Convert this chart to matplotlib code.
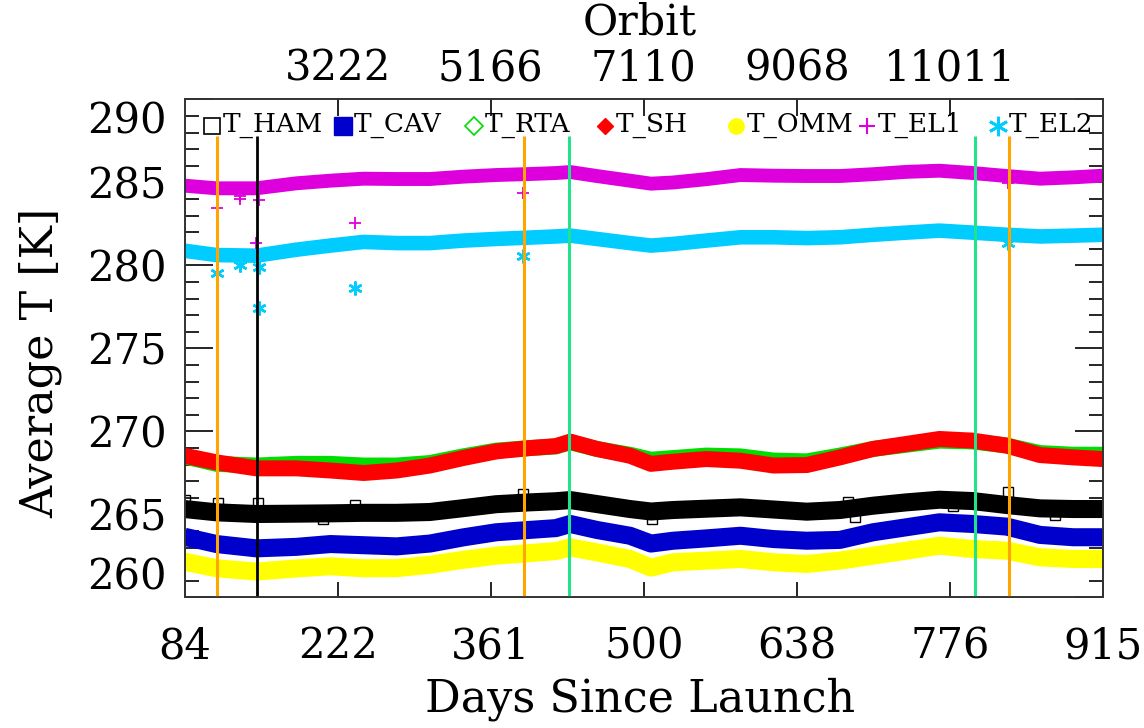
import matplotlib
matplotlib.use("Agg")
import numpy as np
import matplotlib.pyplot as plt
import matplotlib.transforms as mtransforms
from matplotlib.ticker import MultipleLocator

plt.rcParams["font.family"] = ["DejaVu Serif"]

# ---------------------------------------------------------------------------
# Data: average temperatures [K] versus days since launch
# ---------------------------------------------------------------------------
days = [84, 113, 149, 185, 216, 246, 276, 306, 336, 366, 396, 420, 433, 457,
        487, 506, 526, 556, 587, 617, 647, 677, 707, 737, 767, 797, 828, 858,
        888, 915]

t_ham = [265.33, 265.13, 265.03, 265.05, 265.07, 265.10, 265.10, 265.15, 265.38,
         265.62, 265.73, 265.80, 265.87, 265.63, 265.33, 265.18, 265.27, 265.35,
         265.43, 265.30, 265.17, 265.27, 265.53, 265.73, 265.89, 265.81, 265.57,
         265.37, 265.33, 265.33]

t_cav = [263.66, 263.22, 262.96, 263.05, 263.22, 263.15, 263.08, 263.25, 263.62,
         263.93, 264.07, 264.18, 264.43, 264.07, 263.72, 263.25, 263.42, 263.56,
         263.72, 263.52, 263.42, 263.47, 263.93, 264.23, 264.53, 264.43, 264.27,
         263.77, 263.63, 263.63]

t_rta = [268.50, 268.05, 267.95, 268.05, 268.05, 267.95, 267.95, 268.10, 268.50,
         268.85, 269.00, 269.10, 269.35, 268.95, 268.60, 268.30, 268.40, 268.55,
         268.50, 268.25, 268.20, 268.55, 268.95, 269.20, 269.45, 269.40, 269.15,
         268.70, 268.60, 268.60]

t_sh = [268.54, 268.14, 267.78, 267.78, 267.65, 267.50, 267.65, 267.95, 268.40,
        268.80, 269.00, 269.12, 269.39, 268.95, 268.54, 268.05, 268.18, 268.34,
        268.24, 267.95, 267.98, 268.44, 268.95, 269.25, 269.55, 269.45, 269.15,
        268.58, 268.44, 268.34]

t_omm = [262.16, 261.76, 261.56, 261.75, 261.88, 261.76, 261.77, 261.97, 262.27,
         262.52, 262.67, 262.80, 263.02, 262.72, 262.32, 261.80, 262.12, 262.22,
         262.32, 262.12, 262.02, 262.22, 262.52, 262.82, 263.12, 262.92, 262.82,
         262.42, 262.32, 262.32]

t_el1 = [284.81, 284.65, 284.65, 284.95, 285.11, 285.23, 285.21, 285.21, 285.35,
         285.45, 285.51, 285.57, 285.63, 285.39, 285.11, 284.93, 285.00, 285.20,
         285.45, 285.41, 285.39, 285.39, 285.50, 285.64, 285.71, 285.57, 285.39,
         285.23, 285.31, 285.41]

t_el2 = [280.89, 280.63, 280.59, 280.95, 281.20, 281.42, 281.35, 281.35, 281.50,
         281.60, 281.68, 281.75, 281.80, 281.60, 281.35, 281.20, 281.30, 281.50,
         281.70, 281.70, 281.65, 281.70, 281.85, 281.98, 282.10, 281.98, 281.85,
         281.75, 281.80, 281.85]

# isolated readings away from the main bands
ham_extra_days = [84, 114, 150.5, 209, 238, 390.5, 507, 684.5, 690.8, 779.5, 829.3, 871.6]
ham_extra_vals = [265.87, 265.69, 265.69, 264.71, 265.57, 266.23, 264.71, 265.77,
                  264.87, 265.51, 266.37, 264.97]

el1_extra_days = [113, 134, 134, 151, 149, 238, 390.5, 829]
el1_extra_vals = [283.45, 284.20, 284.00, 283.95, 281.34, 282.54, 284.35, 284.95]

el2_extra_days = [113, 134, 151, 151, 238, 390.5, 829]
el2_extra_vals = [279.53, 280.03, 279.93, 277.42, 278.63, 280.57, 281.36]

# event markers (days since launch)
orange_event_days = [113.4, 390.7, 829.5]
green_event_days = [432.3, 799.2]
black_event_days = [149.6]
event_top = 287.8

series_names = ["T_HAM", "T_CAV", "T_RTA", "T_SH", "T_OMM", "T_EL1", "T_EL2"]
day_tick_labels = ["84", "222", "361", "500", "638", "776", "915"]
orbit_tick_labels = ["3222", "5166", "7110", "9068", "11011"]
temp_tick_labels = ["260", "265", "270", "275", "280", "285", "290"]

# ---------------------------------------------------------------------------
# Styles
# ---------------------------------------------------------------------------
colors = {
    "T_HAM": "#000000",
    "T_CAV": "#0000CC",
    "T_RTA": "#00DD00",
    "T_SH": "#FF0000",
    "T_OMM": "#FFFF00",
    "T_EL1": "#DD00DD",
    "T_EL2": "#00CCFF",
}
band_width = {
    "T_HAM": 13, "T_CAV": 13, "T_RTA": 11.5, "T_SH": 11.5,
    "T_OMM": 13, "T_EL1": 10, "T_EL2": 10.5,
}
asterisk = (6, 2, 0)
legend_markers = {
    "T_HAM": dict(marker="s", ms=12, mfc="none", mec="#000000", mew=1.2),
    "T_CAV": dict(marker="s", ms=12.5, mfc="#0000CC", mec="#0000CC"),
    "T_RTA": dict(marker="D", ms=9, mfc="none", mec="#00DD00", mew=1.2),
    "T_SH": dict(marker="D", ms=8.5, mfc="#FF0000", mec="#FF0000"),
    "T_OMM": dict(marker="o", ms=11, mfc="#FFFF00", mec="#FFFF00"),
    "T_EL1": dict(marker="+", ms=12, mec="#DD00DD", mew=1.5),
    "T_EL2": dict(marker=asterisk, ms=14, mec="#00CCFF", mew=2),
}
values = {
    "T_HAM": t_ham, "T_CAV": t_cav, "T_RTA": t_rta, "T_SH": t_sh,
    "T_OMM": t_omm, "T_EL1": t_el1, "T_EL2": t_el2,
}

# ---------------------------------------------------------------------------
# Figure
# ---------------------------------------------------------------------------
fig = plt.figure(figsize=(11.44, 7.28), dpi=100)
ax = fig.add_axes([0.16128, 0.17926, 0.80289, 0.68407])
ax2 = ax.twiny()

for i, name in enumerate(series_names):
    ax.plot(days, values[name], color=colors[name], lw=band_width[name],
            solid_capstyle="butt", solid_joinstyle="round", zorder=2 + i * 0.1)

ax.plot(ham_extra_days, ham_extra_vals, ls="none", marker="s", ms=7,
        mfc="none", mec="#000000", mew=1.0, zorder=2.05)
ax.plot(el1_extra_days, el1_extra_vals, ls="none", marker="+", ms=9,
        mec="#DD00DD", mew=1.3, zorder=2.6)
ax.plot(el2_extra_days, el2_extra_vals, ls="none", marker=asterisk, ms=10,
        mec="#00CCFF", mew=1.8, zorder=2.7)

ax.vlines(orange_event_days, 260, event_top, colors="#FFA500", lw=2.2, zorder=4)
ax.vlines(green_event_days, 260, event_top, colors="#22E38A", lw=2.2, zorder=4)
ax.vlines(black_event_days, 260, event_top, colors="#000000", lw=2.0, zorder=4)

# axis limits and ticks
day_ticks = np.linspace(float(day_tick_labels[0]), float(day_tick_labels[-1]),
                        len(day_tick_labels))
ax.set_xlim(day_ticks[0], day_ticks[-1])
ax.set_ylim(260, 290)
ax.set_xticks(day_ticks)
ax.set_xticklabels(day_tick_labels)
ax.set_yticks([float(t) for t in temp_tick_labels])
ax.set_yticklabels(temp_tick_labels)
ax.yaxis.set_minor_locator(MultipleLocator(1))

ax.tick_params(axis="y", which="major", direction="in", length=20, width=1.2,
               left=True, right=True, labelsize=30, pad=13)
ax.tick_params(axis="y", which="minor", direction="in", length=10, width=1.2,
               left=True, right=True)
ax.tick_params(axis="x", which="major", direction="in", length=11, width=1.2,
               bottom=True, top=False, labelsize=30, pad=20)

ax2.set_xlim(ax.get_xlim())
ax2.set_xticks(day_ticks[1:-1])
ax2.set_xticklabels(orbit_tick_labels)
ax2.tick_params(axis="x", which="major", direction="in", length=12, width=1.2,
                labelsize=30, pad=7)

for a in (ax, ax2):
    for sp in a.spines.values():
        sp.set_linewidth(1.2)
        sp.set_color("#333333")

# keep the end labels of the temperature axis inside the frame
ylabels = ax.get_yticklabels()
ylabels[0].set_transform(ylabels[0].get_transform() +
                         mtransforms.ScaledTranslation(0, 0.245, fig.dpi_scale_trans))
ylabels[-1].set_transform(ylabels[-1].get_transform() +
                          mtransforms.ScaledTranslation(0, -0.175, fig.dpi_scale_trans))

ax.set_xlabel("Days Since Launch", fontsize=32)
ax.xaxis.set_label_coords(0.496, -0.16)
ax.set_ylabel("Average T [K]", fontsize=32)
ax.yaxis.set_label_coords(-0.133, 0.472)
ax2.set_xlabel("Orbit", fontsize=31)
ax2.xaxis.set_label_coords(0.496, 1.13)

# legend row along the top of the frame
leg_x0, leg_dx = 0.0299, 0.1426
leg_marker_y, leg_text_y, leg_text_dx = 0.947, 0.9353, 0.012
for i, name in enumerate(series_names):
    x = leg_x0 + i * leg_dx
    ax.plot([x], [leg_marker_y], transform=ax.transAxes, ls="none",
            clip_on=False, zorder=6, **legend_markers[name])
    ax.text(x + leg_text_dx, leg_text_y, name, transform=ax.transAxes,
            fontsize=19, ha="left", va="baseline", zorder=6)

fig.savefig("out.png", dpi=100)
